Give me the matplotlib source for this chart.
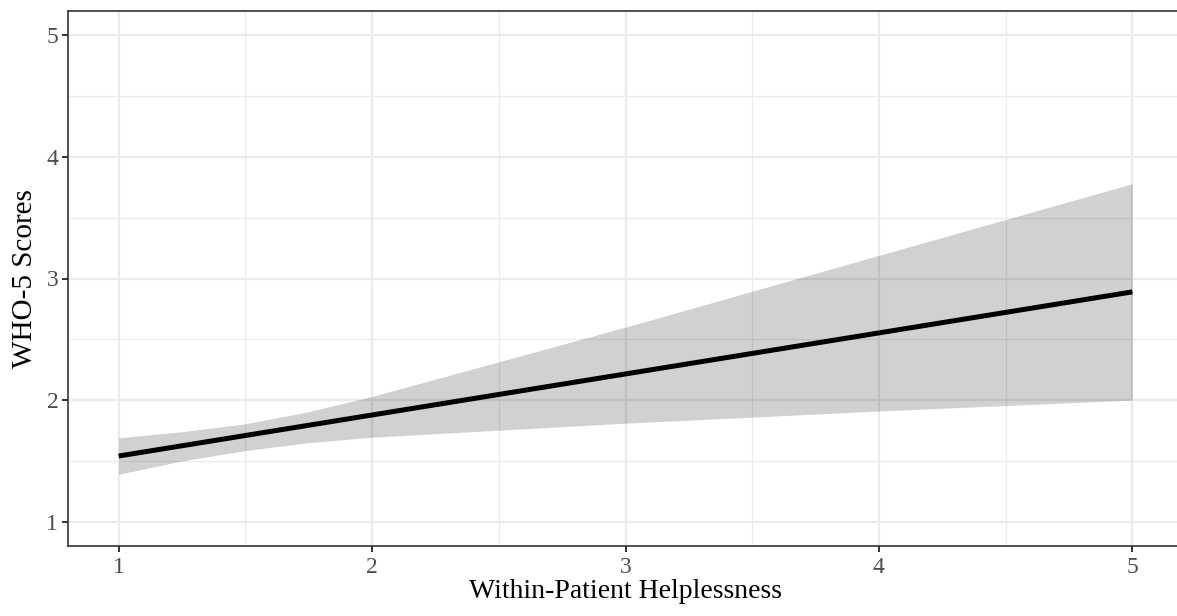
import numpy as np
import matplotlib
matplotlib.use("Agg")
import matplotlib.pyplot as plt
from matplotlib.ticker import MultipleLocator

## values
helplessness = [1, 1.25, 1.5, 1.75, 2, 3, 4, 5]
who5_fit = [1.54, 1.62, 1.70, 1.79, 1.88, 2.22, 2.56, 2.89]
who5_upper = [1.69, 1.74, 1.805, 1.905, 2.03, 2.60, 3.19, 3.78]
who5_lower = [1.39, 1.50, 1.585, 1.65, 1.695, 1.81, 1.91, 2.00]

x_ticks = [1, 2, 3, 4, 5]
y_ticks = [1, 2, 3, 4, 5]


def main():
    plt.rcParams['font.family'] = ['Liberation Serif', 'DejaVu Serif']

    fig = plt.figure(figsize=(11.77, 6.16), dpi=100)
    ax = fig.add_axes([68 / 1177, 70 / 616, 1115 / 1177, 535 / 616])

    ## confidence band and fitted line
    ax.fill_between(helplessness, who5_lower, who5_upper,
                    color='black', alpha=0.18, linewidth=0, zorder=2)
    ax.plot([helplessness[0], helplessness[-1]], [who5_fit[0], who5_fit[-1]],
            color='black', linewidth=3.6, solid_capstyle='butt', zorder=3)

    ax.set_xlim(0.8, 5.2)
    ax.set_ylim(0.8, 5.2)
    ax.set_xticks(x_ticks)
    ax.set_yticks(y_ticks)
    ax.xaxis.set_minor_locator(MultipleLocator(0.5))
    ax.yaxis.set_minor_locator(MultipleLocator(0.5))

    ## theme_bw look
    ax.grid(which='major', color='#ebebeb', linewidth=1.6, zorder=0)
    ax.grid(which='minor', color='#ebebeb', linewidth=0.9, zorder=0)
    ax.set_axisbelow(True)
    for s in ax.spines.values():
        s.set_color('#333333')
        s.set_linewidth(1.2)
    ax.tick_params(which='major', length=4, width=1.4, color='#333333',
                   labelsize=17, labelcolor='#4d4d4d', pad=4)
    ax.tick_params(axis='y', which='major', pad=3)
    ax.tick_params(which='minor', length=0)

    ax.set_xlabel('Within-Patient Helplessness', fontsize=20, labelpad=1)
    ax.set_ylabel('WHO-5 Scores', fontsize=21, labelpad=6)

    fig.savefig('out.png', dpi=100)


if __name__ == '__main__':
    main()
